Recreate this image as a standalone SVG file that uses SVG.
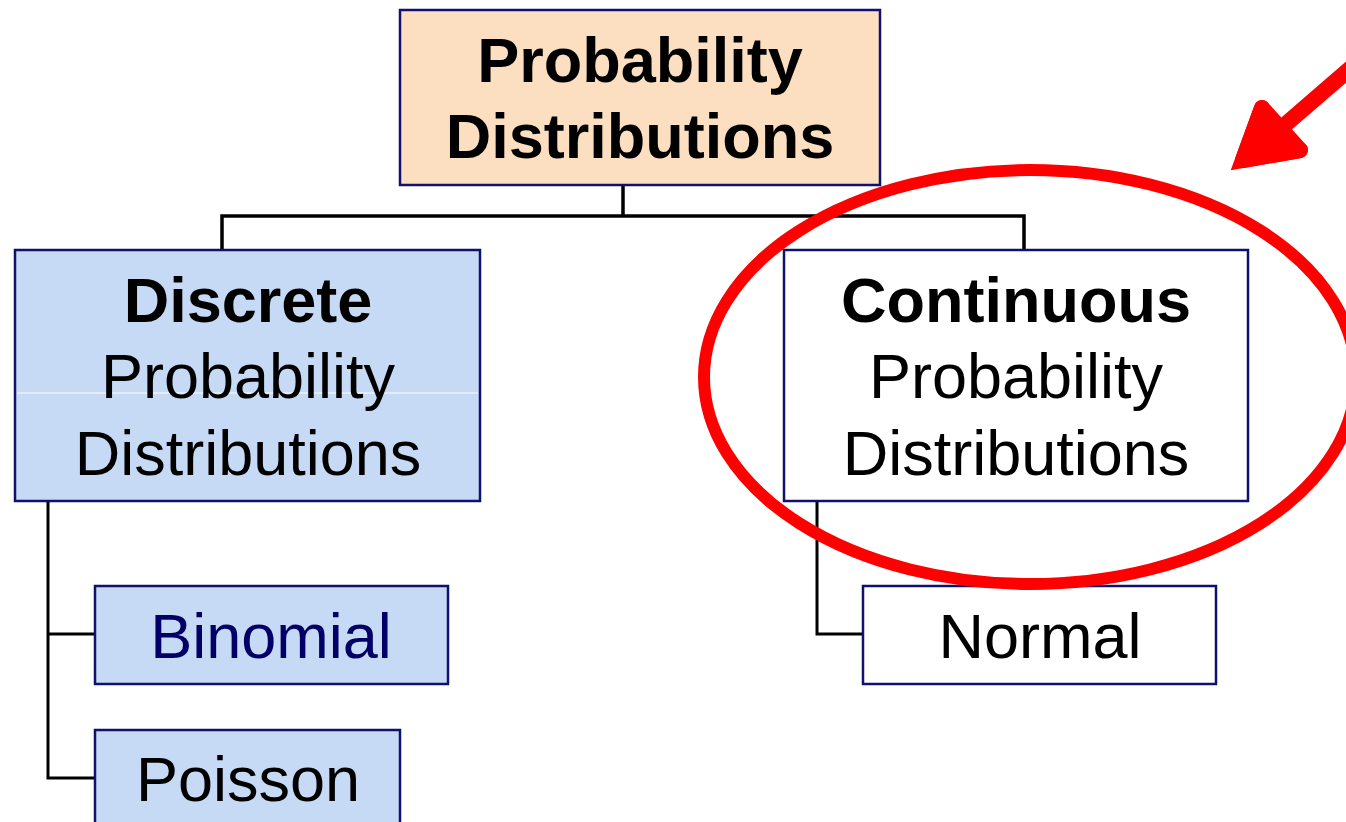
<svg xmlns="http://www.w3.org/2000/svg" width="1346" height="822" viewBox="0 0 1346 822">
<style>
  .box{stroke:#10106E;stroke-width:2.5}
  .peach{fill:#FCDFC0}
  .blue{fill:#C6DAF5}
  .white{fill:#FFFFFF}
  .t{font-family:"Liberation Sans",Arial,sans-serif;font-size:63px;text-anchor:middle;fill:#000}
  .b{font-weight:bold}
  .conn{fill:none;stroke:#000;stroke-width:3.5;stroke-linejoin:miter}
  .red{fill:none;stroke:#FF0000;stroke-width:12}
</style>
<rect width="1346" height="822" fill="#FFFFFF"/>
<g id="connectors">
  <polyline class="conn" points="623,185 623,216"/>
  <polyline class="conn" points="222,250 222,216 1024,216 1024,250"/>
  <polyline class="conn" style="stroke-width:3" points="48,501 48,778 95,778"/>
  <polyline class="conn" style="stroke-width:3" points="48,634 95,634"/>
  <polyline class="conn" style="stroke-width:3" points="817,501 817,634 863,634"/>
</g>
<g id="node-root">
  <rect class="box peach" x="400" y="10" width="480" height="175"/>
  <text class="t b" x="640" y="82">Probability</text>
  <text class="t b" x="640" y="158">Distributions</text>
</g>
<g id="node-discrete">
  <rect class="box blue" x="15" y="250" width="465" height="251"/>
  <line x1="17" y1="393" x2="478" y2="393" stroke="#FFFFFF" stroke-width="1"/>
  <text class="t b" x="248" y="322">Discrete</text>
  <text class="t" x="248" y="398">Probability</text>
  <text class="t" x="248" y="475">Distributions</text>
</g>
<g id="node-continuous">
  <rect class="box white" x="784" y="250" width="464" height="251"/>
  <text class="t b" x="1016" y="322">Continuous</text>
  <text class="t" x="1016" y="398">Probability</text>
  <text class="t" x="1016" y="475">Distributions</text>
</g>
<g id="node-binomial">
  <rect class="box blue" x="95" y="586" width="353" height="98"/>
  <text class="t" x="271" y="658" style="fill:#000066">Binomial</text>
</g>
<g id="node-poisson">
  <rect class="box blue" x="95" y="730" width="305" height="100"/>
  <text class="t" x="248" y="801">Poisson</text>
</g>
<g id="node-normal">
  <rect class="box white" x="863" y="586" width="353" height="98"/>
  <text class="t" x="1040" y="658">Normal</text>
</g>
<g id="highlight">
  <ellipse class="red" cx="1030" cy="377" rx="326" ry="207"/>
  <line x1="1352" y1="67" x2="1250" y2="155" stroke="#FF0000" stroke-width="16" stroke-linecap="round"/>
  <path d="M1262,108 L1243,160 L1300,150 Z" fill="#FF0000" stroke="#FF0000" stroke-width="16" stroke-linecap="round" stroke-linejoin="round"/>
  <path d="M1262,108 L1243,160 L1300,150" fill="none" stroke="#FF0000" stroke-width="16" stroke-linecap="round" stroke-linejoin="miter" stroke-miterlimit="10"/>
</g>
</svg>
